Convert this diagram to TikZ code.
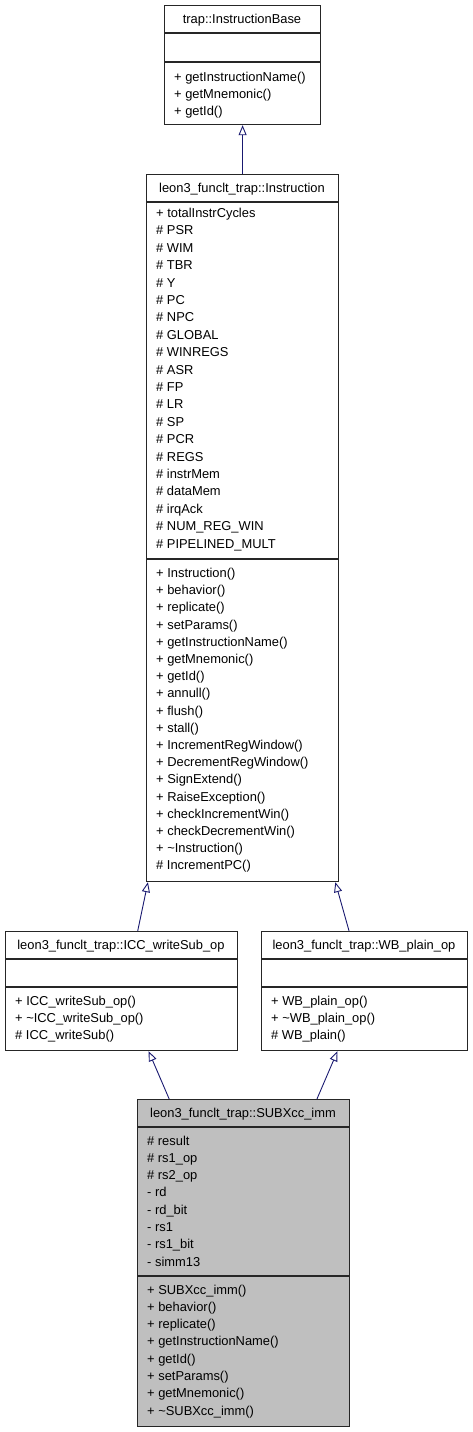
\documentclass[tikz,border=0pt]{standalone}
\usepackage{fontspec}
\setmainfont{Liberation Sans}
\usetikzlibrary{arrows.meta}
\usetikzlibrary{calc}
\definecolor{edgeblue}{HTML}{191970}
\definecolor{leafgray}{HTML}{BFBFBF}
\tikzset{cls/.style={draw=black!85, line width=1.2pt, inner sep=0pt, anchor=north west}}
\tikzset{sep/.style={draw=black!85, line width=1.2pt}}
\tikzset{t/.style={font=\fontsize{12.9}{13}\selectfont, inner sep=0pt, anchor=base}}
\tikzset{mem/.style={font=\fontsize{12.9}{13}\selectfont, inner sep=0pt, anchor=base west}}
\tikzset{inh/.style={draw=edgeblue, line width=0.9pt, -{Triangle[open, width=8pt, length=10pt]}}}

\begin{document}
\begin{tikzpicture}[x=1pt, y=-1pt]
  \useasboundingbox (0,0) rectangle (472,1432);
  % trap::InstructionBase
  \node[cls, minimum width=156pt, minimum height=119pt] (base) at (164,5) {};
  \draw[sep] (164,33) -- (320,33) (164,62) -- (320,62);
  \node[t] (base-title) at (242,23.5) {trap::InstructionBase};
  \foreach \m [count=\i from 0] in {+ getInstructionName(), + getMnemonic(), + getId()}
    \node[mem] (base-m\i) at (174,{76.5+17*\i+4.5}) {\m};

  % leon3_funclt_trap::Instruction
  \node[cls, minimum width=192pt, minimum height=707pt] (instr) at (146,174) {};
  \draw[sep] (146,202) -- (338,202) (146,559) -- (338,559);
  \node[t] (instr-title) at (242,192.5) {leon3\_funclt\_trap::Instruction};
  \foreach \m [count=\i from 0] in {+ totalInstrCycles, \# PSR, \# WIM, \# TBR, \# Y, \# PC, \# NPC,
      \# GLOBAL, \# WINREGS, \# ASR, \# FP, \# LR, \# SP, \# PCR, \# REGS, \# instrMem, \# dataMem,
      \# irqAck, \# NUM\_REG\_WIN, \# PIPELINED\_MULT}
    \node[mem] (instr-a\i) at (156,{213+17.4*\i+4.5}) {\m};
  \foreach \m [count=\i from 0] in {+ Instruction(), + behavior(), + replicate(), + setParams(),
      + getInstructionName(), + getMnemonic(), + getId(), + annull(), + flush(), + stall(),
      + IncrementRegWindow(), + DecrementRegWindow(), + SignExtend(), + RaiseException(),
      + checkIncrementWin(), + checkDecrementWin(), + \textasciitilde Instruction(), \# IncrementPC()}
    \node[mem] (instr-m\i) at (156,{573+17.2*\i+4.5}) {\m};

  % leon3_funclt_trap::ICC_writeSub_op
  \node[cls, minimum width=232pt, minimum height=119pt] (icc) at (5,931) {};
  \draw[sep] (5,959) -- (237,959) (5,987) -- (237,987);
  \node[t] (icc-title) at (121,949.5) {leon3\_funclt\_trap::ICC\_writeSub\_op};
  \foreach \m [count=\i from 0] in {+ ICC\_writeSub\_op(), + \textasciitilde ICC\_writeSub\_op(), \# ICC\_writeSub()}
    \node[mem] (icc-m\i) at (15,{1000.5+17*\i+4.5}) {\m};

  % leon3_funclt_trap::WB_plain_op
  \node[cls, minimum width=206pt, minimum height=119pt] (wb) at (261,931) {};
  \draw[sep] (261,959) -- (467,959) (261,987) -- (467,987);
  \node[t] (wb-title) at (364,949.5) {leon3\_funclt\_trap::WB\_plain\_op};
  \foreach \m [count=\i from 0] in {+ WB\_plain\_op(), + \textasciitilde WB\_plain\_op(), \# WB\_plain()}
    \node[mem] (wb-m\i) at (271,{1000.5+17*\i+4.5}) {\m};

  % leon3_funclt_trap::SUBXcc_imm
  \node[cls, fill=leafgray, minimum width=212pt, minimum height=327pt] (sub) at (137,1099) {};
  \draw[sep] (137,1127) -- (349,1127) (137,1276) -- (349,1276);
  \node[t] (sub-title) at (243,1117.5) {leon3\_funclt\_trap::SUBXcc\_imm};
  \foreach \m [count=\i from 0] in {\# result, \# rs1\_op, \# rs2\_op, - rd, - rd\_bit, - rs1, - rs1\_bit, - simm13}
    \node[mem] (sub-a\i) at (147,{1140.5+17.3*\i+4.5}) {\m};
  \foreach \m [count=\i from 0] in {+ SUBXcc\_imm(), + behavior(), + replicate(), + getInstructionName(),
      + getId(), + setParams(), + getMnemonic(), + \textasciitilde SUBXcc\_imm()}
    \node[mem] (sub-m\i) at (147,{1289.5+17.3*\i+4.5}) {\m};

  % inheritance
  \draw[inh] (instr.north) -- (base.south);
  \draw[inh] ($(icc.north west)!0.569!(icc.north east)$) -- ($(instr.south west)!0.01!(instr.south east)$);
  \draw[inh] ($(wb.north west)!0.425!(wb.north east)$) -- ($(instr.south west)!0.98!(instr.south east)$);
  \draw[inh] ($(sub.north west)!0.151!(sub.north east)$) -- ($(icc.south west)!0.616!(icc.south east)$);
  \draw[inh] ($(sub.north west)!0.844!(sub.north east)$) -- ($(wb.south west)!0.369!(wb.south east)$);
\end{tikzpicture}
\end{document}
